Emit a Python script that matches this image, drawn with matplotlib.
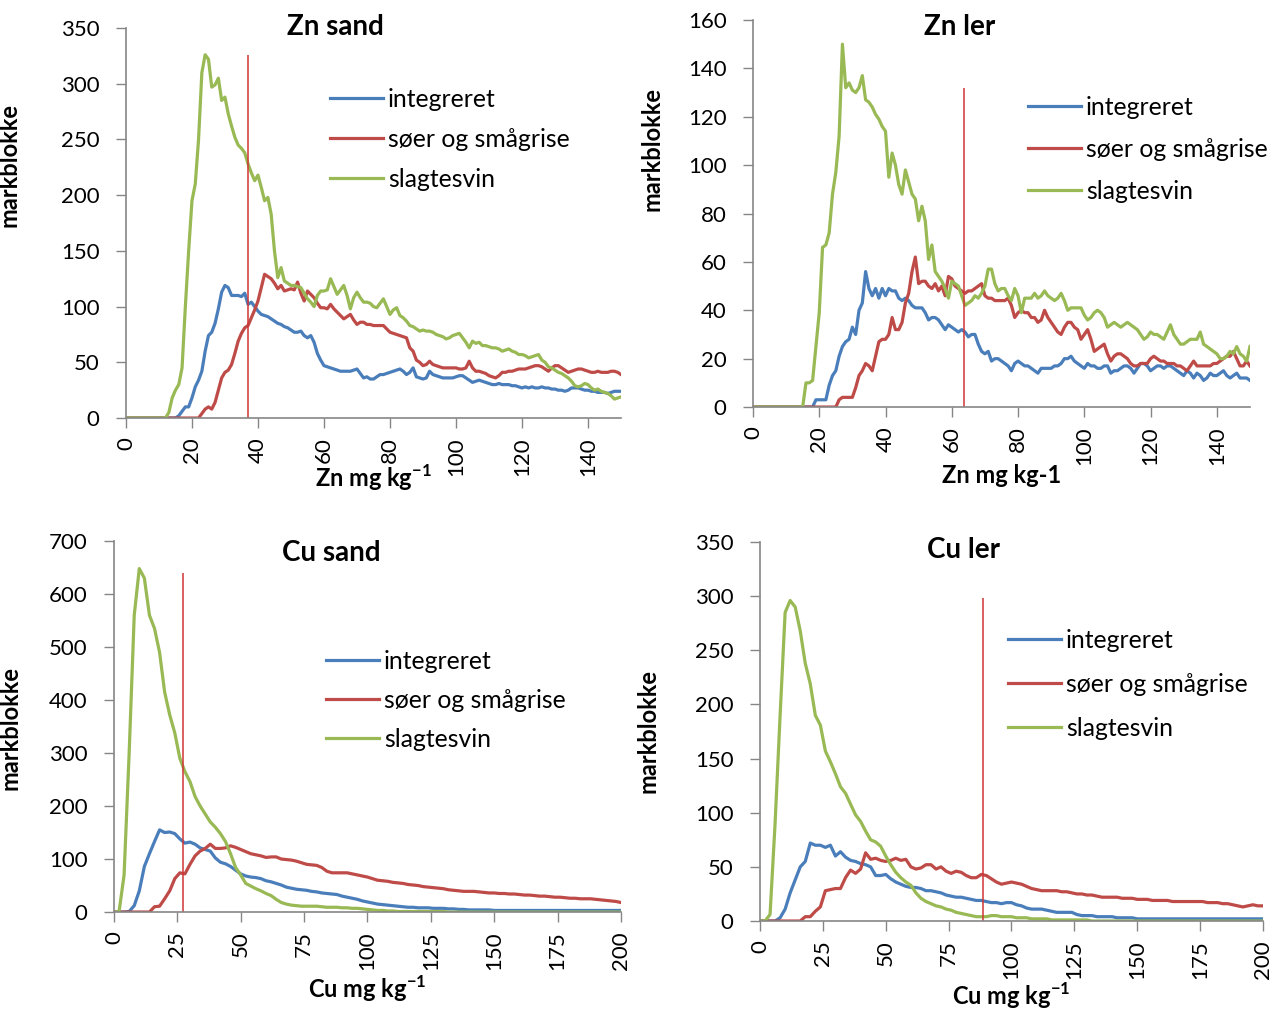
import matplotlib
matplotlib.use("Agg")
import matplotlib.pyplot as plt
import numpy as np

plt.rcParams['font.family'] = ['Lato', 'DejaVu Sans']
plt.rcParams['mathtext.fontset'] = 'custom'
plt.rcParams['mathtext.rm'] = 'Lato'
plt.rcParams['mathtext.bf'] = 'Lato:bold'

# x grids (mg/kg)
zn_x = np.arange(0, 151, 1)
cu_x = np.arange(0, 201, 2)

series_names = ['integreret', 'søer og smågrise', 'slagtesvin']
series_colors = ['#4A7EBB', '#BE4B48', '#98B954']

# Zn sand
zn_sand_integreret = [0] * 10 + [
    0, 0, 0, 0, 0, 0, 2, 6, 10, 10,
    18, 28, 34, 42, 60, 74, 77, 85, 98, 113,
    119, 117, 110, 110, 110, 109, 112, 102, 104, 100,
    96, 93, 92, 91, 89, 87, 85, 84, 82, 81,
    79, 77, 77, 78, 74, 72, 74, 68, 58, 52,
    47, 46, 45, 44, 43, 42, 42, 42, 42, 43,
    44, 40, 36, 37, 35, 35, 37, 39, 39, 40,
    41, 42, 43, 44, 42, 39, 41, 45, 37, 36,
    35, 36, 42, 39, 38, 37, 36, 36, 36, 36,
    37, 38, 38, 36, 34, 32, 33, 34, 33, 32,
    31, 30, 30, 31, 30, 30, 30, 29, 29, 28,
    27, 28, 27, 28, 27, 27, 28, 27, 27, 26,
    26, 25, 25, 24, 25, 27, 27, 27, 26, 25,
    25, 24, 24, 23, 23, 23, 22, 23, 24, 24,
    24]
zn_sand_soer = [0] * 20 + [
    0, 0, 0, 4, 8, 10, 8, 14, 25, 36,
    41, 43, 48, 58, 69, 76, 81, 83, 90, 97,
    105, 117, 129, 127, 125, 121, 116, 119, 114, 115,
    116, 115, 122, 112, 105, 114, 111, 108, 103, 99,
    99, 98, 102, 98, 95, 92, 89, 91, 93, 88,
    84, 86, 86, 84, 84, 83, 83, 83, 83, 80,
    77, 76, 75, 74, 73, 72, 63, 60, 52, 50,
    47, 48, 51, 48, 47, 46, 45, 45, 45, 45,
    45, 44, 44, 45, 51, 45, 42, 42, 41, 40,
    38, 37, 36, 38, 41, 41, 42, 42, 43, 44,
    44, 44, 45, 46, 47, 47, 46, 44, 42, 45,
    47, 47, 45, 43, 41, 42, 43, 44, 44, 43,
    42, 41, 41, 42, 41, 41, 41, 42, 42, 41,
    39]
zn_sand_slagtesvin = [0] * 10 + [
    0, 0, 0, 5, 18, 25, 30, 45, 100, 150,
    195, 210, 250, 310, 326, 322, 297, 299, 305, 285,
    288, 273, 262, 252, 245, 242, 238, 228, 220, 213,
    218, 207, 195, 198, 183, 150, 126, 135, 123, 121,
    119, 119, 118, 117, 112, 107, 104, 100, 110, 114,
    114, 115, 125, 118, 111, 115, 119, 110, 98, 108,
    113, 108, 104, 104, 103, 100, 99, 103, 107, 100,
    93, 97, 99, 92, 90, 87, 83, 82, 80, 78,
    79, 78, 78, 77, 75, 74, 73, 71, 72, 74,
    75, 76, 72, 68, 63, 69, 67, 68, 65, 65,
    64, 63, 63, 62, 60, 61, 62, 60, 59, 57,
    57, 56, 54, 55, 56, 57, 52, 50, 46, 45,
    43, 41, 40, 38, 36, 33, 29, 28, 29, 31,
    30, 27, 25, 26, 24, 23, 22, 20, 17, 18,
    19]

# Zn ler
zn_ler_integreret = [0] * 10 + [
    0, 0, 0, 0, 0, 0, 0, 0, 0, 3,
    3, 3, 3, 9, 13, 15, 21, 25, 27, 28,
    33, 30, 40, 43, 56, 49, 46, 49, 45, 49,
    46, 49, 48, 48, 45, 44, 45, 44, 42, 41,
    41, 41, 39, 36, 37, 37, 36, 34, 32, 34,
    33, 32, 31, 32, 31, 29, 30, 30, 26, 23,
    22, 23, 19, 20, 20, 19, 18, 17, 15, 18,
    19, 18, 17, 17, 16, 15, 14, 16, 16, 16,
    16, 17, 17, 18, 20, 20, 21, 19, 18, 17,
    16, 18, 17, 17, 16, 16, 17, 17, 14, 15,
    15, 16, 17, 17, 16, 14, 16, 18, 18, 17,
    15, 16, 17, 17, 16, 17, 17, 16, 15, 14,
    13, 15, 14, 12, 14, 13, 11, 12, 14, 13,
    13, 14, 15, 13, 12, 13, 14, 12, 12, 12,
    11]
zn_ler_soer = [0] * 20 + [
    0, 0, 0, 0, 0, 0, 3, 4, 4, 4,
    4, 8, 13, 15, 18, 17, 15, 21, 27, 28,
    28, 30, 37, 32, 32, 35, 43, 47, 56, 62,
    51, 52, 52, 50, 49, 51, 48, 50, 46, 54,
    53, 50, 49, 48, 47, 48, 48, 49, 50, 51,
    46, 45, 45, 44, 44, 44, 44, 45, 42, 37,
    39, 40, 39, 39, 37, 37, 35, 36, 40, 37,
    35, 33, 31, 30, 33, 35, 35, 33, 32, 28,
    30, 32, 28, 23, 24, 25, 26, 22, 19, 21,
    22, 22, 21, 20, 18, 17, 17, 18, 18, 18,
    20, 21, 20, 19, 19, 18, 18, 18, 17, 17,
    16, 15, 17, 19, 17, 17, 17, 17, 17, 18,
    18, 19, 20, 21, 21, 23, 20, 17, 17, 19,
    17]
zn_ler_slagtesvin = [0] * 10 + [
    0, 0, 0, 0, 0, 0, 10, 10, 11, 25,
    39, 66, 67, 72, 88, 97, 112, 150, 132, 134,
    131, 130, 132, 137, 127, 126, 124, 121, 119, 116,
    114, 95, 105, 100, 92, 88, 98, 93, 88, 86,
    77, 83, 77, 61, 67, 56, 54, 52, 49, 45,
    52, 51, 50, 46, 42, 43, 44, 46, 45, 47,
    50, 57, 57, 51, 48, 49, 49, 46, 44, 49,
    46, 39, 45, 45, 45, 47, 45, 46, 48, 46,
    45, 44, 45, 47, 44, 40, 41, 41, 41, 41,
    38, 36, 37, 39, 40, 39, 37, 33, 34, 35,
    34, 33, 34, 35, 34, 33, 32, 30, 28, 29,
    31, 30, 30, 29, 28, 31, 34, 30, 28, 26,
    26, 27, 28, 28, 28, 31, 26, 25, 24, 23,
    22, 20, 20, 21, 23, 22, 25, 22, 21, 19,
    25]

# Cu sand
cu_sand_integreret = [
    0, 0, 0, 1, 12, 40, 86, 110, 133, 155,
    150, 151, 148, 138, 130, 132, 128, 121, 118, 115,
    102, 94, 91, 86, 79, 72, 68, 66, 65, 63,
    59, 57, 54, 51, 47, 45, 43, 42, 41, 39,
    38, 36, 35, 34, 33, 30, 28, 26, 24, 21,
    19, 17, 15, 14, 13, 12, 11, 10, 9, 9,
    8, 8, 8, 7, 7, 7, 6, 6, 5, 5,
    4, 4, 4, 4, 4, 3, 3, 3, 3, 3] + [3] * 21
cu_sand_soer = [
    0, 0, 0, 0, 0, 0, 0, 0, 10, 11,
    25, 40, 63, 74, 72, 90, 106, 115, 120, 128,
    120, 120, 121, 125, 122, 118, 114, 110, 108, 106,
    103, 104, 104, 100, 99, 98, 96, 93, 90, 89,
    88, 84, 77, 74, 74, 74, 74, 72, 70, 68,
    66, 63, 60, 59, 58, 56, 55, 54, 52, 51,
    50, 48, 47, 46, 45, 44, 42, 41, 40, 39,
    39, 39, 38, 37, 36, 36, 35, 35, 34, 34,
    33, 32, 32, 31, 30, 30, 29, 28, 28, 27,
    26, 26, 25, 25, 25, 24, 23, 22, 21, 20,
    18]
cu_sand_slagtesvin = [
    0, 0, 70, 300, 560, 648, 630, 560, 535, 490,
    415, 372, 338, 290, 265, 246, 218, 200, 185, 170,
    160, 148, 133, 110, 84, 70, 54, 49, 44, 40,
    35, 31, 24, 18, 15, 13, 12, 11, 11, 11,
    11, 10, 9, 9, 9, 8, 8, 7, 7, 6,
    5, 4, 3, 3, 2, 2, 1, 1, 1, 1,
    1, 1, 1, 1, 1, 1] + [0] * 35

# Cu ler
cu_ler_integreret = [
    0, 0, 0, 0, 3, 11, 26, 38, 50, 55,
    72, 70, 70, 68, 70, 60, 64, 59, 56, 55,
    53, 52, 50, 42, 42, 43, 39, 36, 34, 32,
    31, 31, 30, 28, 28, 27, 26, 24, 23, 22,
    22, 21, 20, 19, 19, 18, 17, 17, 16, 17,
    17, 15, 14, 12, 11, 11, 11, 10, 9, 8,
    8, 8, 8, 6, 5, 5, 5, 4, 4, 4,
    4, 3, 3, 3, 3, 2, 2, 2, 2, 2] + [2] * 21
cu_ler_soer = [
    0, 0, 0, 0, 0, 0, 0, 0, 0, 4,
    4, 9, 13, 28, 29, 30, 30, 40, 47, 44,
    48, 63, 57, 58, 56, 55, 56, 58, 56, 57,
    50, 48, 49, 52, 52, 48, 50, 46, 44, 46,
    45, 42, 40, 40, 43, 42, 39, 36, 34, 35,
    36, 35, 34, 32, 30, 29, 28, 28, 28, 28,
    27, 27, 26, 25, 25, 24, 24, 23, 22, 22,
    22, 22, 21, 21, 21, 20, 20, 20, 19, 19,
    19, 19, 18, 18, 18, 18, 18, 18, 18, 17,
    17, 17, 16, 16, 15, 14, 13, 14, 15, 14,
    14]
cu_ler_slagtesvin = [
    0, 0, 6, 90, 190, 285, 296, 290, 268, 238,
    219, 190, 181, 157, 147, 136, 124, 118, 108, 98,
    92, 83, 75, 73, 69, 60, 52, 45, 40, 36,
    33, 26, 21, 18, 16, 14, 13, 11, 10, 8,
    7, 6, 5, 4, 4, 4, 5, 5, 4, 4,
    4, 3, 3, 3, 2, 2, 2, 2, 1, 1,
    1, 1, 1, 1, 1, 1] + [0] * 35

# vertical reference lines: (x position, top)
limit_lines = [(37, 326), (63.7, 132), (27.3, 640), (88.6, 298)]

titles = ['Zn sand', 'Zn ler', 'Cu sand', 'Cu ler']
xlabels = [r'Zn mg kg$^{\mathbf{-1}}$', 'Zn mg kg-1',
           r'Cu mg kg$^{\mathbf{-1}}$', r'Cu mg kg$^{\mathbf{-1}}$']

panels = [
    dict(x=zn_x, ys=[zn_sand_integreret, zn_sand_soer, zn_sand_slagtesvin],
         rect=[0.0987, 0.5857, 0.3880, 0.3865], xlim=150, xstep=20, ylim=350, ystep=50,
         title_xy=(0.424, 1.003), ylab_xy=(-0.212, 0.649), xlab_y=-0.152,
         leg_xy=(0.412, 0.847), leg_sp=0.69),
    dict(x=zn_x, ys=[zn_ler_integreret, zn_ler_soer, zn_ler_slagtesvin],
         rect=[0.5901, 0.5966, 0.3895, 0.3836], xlim=150, xstep=20, ylim=160, ystep=20,
         title_xy=(0.416, 0.982), ylab_xy=(-0.181, 0.667), xlab_y=-0.178,
         leg_xy=(0.553, 0.804), leg_sp=0.77),
    dict(x=cu_x, ys=[cu_sand_integreret, cu_sand_soer, cu_sand_slagtesvin],
         rect=[0.0893, 0.0961, 0.3973, 0.3677], xlim=200, xstep=25, ylim=700, ystep=100,
         title_xy=(0.428, 0.968), ylab_xy=(-0.183, 0.496), xlab_y=-0.207,
         leg_xy=(0.418, 0.707), leg_sp=0.65),
    dict(x=cu_x, ys=[cu_ler_integreret, cu_ler_soer, cu_ler_slagtesvin],
         rect=[0.5956, 0.0872, 0.3942, 0.3756], xlim=200, xstep=25, ylim=350, ystep=50,
         title_xy=(0.404, 0.979), ylab_xy=(-0.199, 0.501), xlab_y=-0.197,
         leg_xy=(0.493, 0.771), leg_sp=0.85),
]

fig = plt.figure(figsize=(12.76, 10.09), dpi=100)
axis_grey = '#868686'

for i, p in enumerate(panels):
    ax = fig.add_axes(p['rect'])
    for y, name, col in zip(p['ys'], series_names, series_colors):
        ax.plot(p['x'], y, color=col, lw=2.3, label=name, solid_joinstyle='round')
    lx, ltop = limit_lines[i]
    ax.vlines(lx, 0, ltop, color='#D03535', lw=1.1)

    ax.set_xlim(0, p['xlim'])
    ax.set_ylim(0, p['ylim'])
    ax.set_xticks(np.arange(0, p['xlim'] + 1, p['xstep']))
    ax.set_yticks(np.arange(0, p['ylim'] + 1, p['ystep']))
    ax.tick_params(axis='x', direction='out', length=7, width=1, color=axis_grey,
                   labelsize=16, pad=7, labelrotation=90)
    ax.tick_params(axis='y', direction='out', length=7, width=1, color=axis_grey,
                   labelsize=16, pad=12)
    for s in ['top', 'right']:
        ax.spines[s].set_visible(False)
    for s in ['left', 'bottom']:
        ax.spines[s].set_color(axis_grey)
        ax.spines[s].set_linewidth(1.2)

    ax.text(p['title_xy'][0], p['title_xy'][1], titles[i], transform=ax.transAxes,
            ha='center', va='center', fontsize=20, fontweight='bold')
    ax.set_ylabel('markblokke', fontsize=17, fontweight='bold')
    ax.yaxis.set_label_coords(*p['ylab_xy'])
    ax.set_xlabel(xlabels[i], fontsize=17, fontweight='bold')
    ax.xaxis.set_label_coords(0.5, p['xlab_y'])
    ax.xaxis.label.set_va('center')

    ax.legend(loc='upper left', bbox_to_anchor=p['leg_xy'], frameon=False,
              fontsize=17.8, handlelength=2.15, handletextpad=0.2,
              labelspacing=p['leg_sp'], borderpad=0, borderaxespad=0)

fig.savefig('out.png', dpi=100)
